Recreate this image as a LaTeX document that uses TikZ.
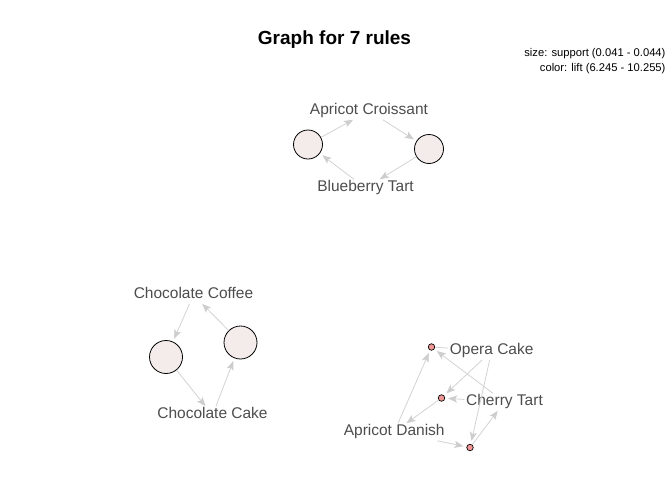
\documentclass[tikz,border=0pt]{standalone}
\usepackage{fontspec}
\setmainfont{Liberation Sans}
\usetikzlibrary{arrows.meta}
\definecolor{labcol}{RGB}{77,77,77}
\definecolor{edgecol}{RGB}{211,211,211}
\definecolor{arrcol}{RGB}{205,205,205}
\definecolor{bigfill}{RGB}{243,236,234}
\definecolor{smallfill}{RGB}{242,150,150}
\begin{document}
\begin{tikzpicture}[x=1pt,y=-1pt,
  item/.style={text=labcol,font=\fontsize{15.5}{18}\selectfont,inner sep=1.5pt,text height=11pt,text depth=3.2pt},
  rulebig/.style={circle,draw=black,line width=0.8pt,fill=bigfill,inner sep=0pt},
  rulesmall/.style={circle,draw=black,line width=0.7pt,fill=smallfill,inner sep=0pt,minimum size=6.5pt},
  edge/.style={draw=edgecol,line width=0.8pt,-{Stealth[length=9pt,width=7pt,inset=2pt,fill=arrcol,color=arrcol]}},
  toRule/.style={edge,shorten >=3pt},
  plain/.style={draw=edgecol,line width=0.8pt}
]
\useasboundingbox[fill=white] (0,0) rectangle (672,480);
% title and legend
\node[font=\fontsize{19}{22}\selectfont\bfseries] (title) at (334.5,40) {Graph for 7 rules};
\node[font=\fontsize{11.2}{13}\selectfont,anchor=east] (leg1) at (669,54) {size: support (0.041 - 0.044)};
\node[font=\fontsize{11.2}{13}\selectfont,anchor=east] (leg2) at (669,69) {color: lift (6.245 - 10.255)};
% cluster 1
\node[item] (ac) at (369,111) {Apricot Croissant};
\node[item] (bt) at (365.5,188) {Blueberry Tart};
\node[rulebig,minimum size=29pt] (r1) at (308,144.5) {};
\node[rulebig,minimum size=29pt] (r2) at (429,149) {};
% cluster 2
\node[item] (cc) at (193.5,295) {Chocolate Coffee};
\node[item] (ck) at (212.5,415) {Chocolate Cake};
\node[rulebig,minimum size=33pt] (r3) at (166,357) {};
\node[rulebig,minimum size=33pt] (r4) at (240.5,342.5) {};
% cluster 3
\node[item] (oc) at (491.7,351) {Opera Cake};
\node[item] (ct) at (504.5,402) {Cherry Tart};
\node[item] (ad) at (394.2,432) {Apricot Danish};
\node[rulesmall] (ra) at (431.5,347) {};
\node[rulesmall] (rb) at (441.5,398) {};
\node[rulesmall] (rc) at (470,447.5) {};
% edges cluster 1
\draw[toRule] (bt) -- (r1);
\draw[edge] (r1) -- (ac);
\draw[toRule] (ac) -- (r2);
\draw[edge] (r2) -- (bt);
% edges cluster 2
\draw[toRule] (cc) -- (r3);
\draw[edge] (r3) -- (ck);
\draw[toRule] (ck) -- (r4);
\draw[edge] (r4) -- (cc);
% edges cluster 3
\draw[toRule] (ad) -- (ra);
\draw[toRule] (ct) -- (ra);
\draw[plain] (ra) -- (oc);
\draw[toRule] (oc) -- (rb);
\draw[toRule] (ct) -- (rb);
\draw[edge] (rb) -- (ad);
\draw[toRule] (oc) -- (rc);
\draw[toRule] (ad) -- (rc);
\draw[edge] (rc) -- (ct);
\end{tikzpicture}
\end{document}
